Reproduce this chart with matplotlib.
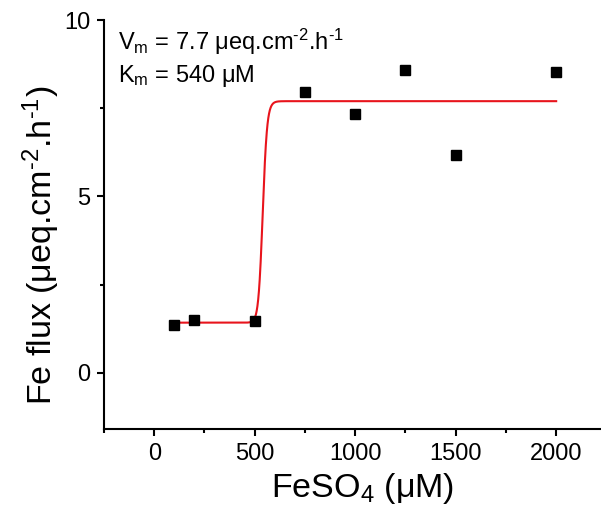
import numpy as np
import matplotlib
matplotlib.use("Agg")
import matplotlib.pyplot as plt
from matplotlib.ticker import MultipleLocator

plt.rcParams['font.family'] = ['Liberation Sans', 'DejaVu Sans']
plt.rcParams['mathtext.fontset'] = 'custom'
plt.rcParams['mathtext.rm'] = 'Liberation Sans'
plt.rcParams['mathtext.it'] = 'Liberation Sans:italic'

# measured points
feso4 = [100, 200, 500, 750, 1000, 1250, 1500, 2000]
fe_flux = [1.34, 1.50, 1.47, 7.97, 7.34, 8.58, 6.18, 8.52]

# fitted Hill curve parameters
vm = 7.7
km = 540
base = 1.42
hill_n = 50

xfit = np.linspace(100, 2000, 2000)
yfit = base + (vm - base) * xfit**hill_n / (km**hill_n + xfit**hill_n)

fig = plt.figure(figsize=(6.01, 5.14), dpi=100)
ax = fig.add_axes([0.173, 0.165, 0.826, 0.796])

ax.plot(xfit, yfit, color='#e8141c', lw=1.5, zorder=2)
ax.plot(feso4, fe_flux, 's', color='black', ms=6.5, zorder=3)

ax.set_xlim(-250, 2220)
ax.set_ylim(-1.6, 10)
ax.xaxis.set_major_locator(MultipleLocator(500))
ax.xaxis.set_minor_locator(MultipleLocator(250))
ax.yaxis.set_major_locator(MultipleLocator(5))
ax.yaxis.set_minor_locator(MultipleLocator(2.5))

for s in ['top', 'right']:
    ax.spines[s].set_visible(False)
for s in ['left', 'bottom']:
    ax.spines[s].set_linewidth(1.5)

ax.tick_params(which='major', direction='out', length=5, width=1.5, labelsize=17, pad=5)
ax.tick_params(which='minor', direction='out', length=3, width=1.5)

ax.set_xlabel('FeSO$_\\mathregular{4}$ (μM)', fontsize=24.5, labelpad=4)
ax.xaxis.label.set_x(0.52)
ax.set_ylabel('Fe flux (μeq.cm$^{\\text{-}\\mathregular{2}}$.h$^{\\text{-}\\mathregular{1}}$)',
              fontsize=24.5, labelpad=1)
ax.yaxis.label.set_y(0.45)

ax.text(0.028, 0.927, 'V$_\\mathregular{m}$ = 7.7 μeq.cm$^{\\text{-}\\mathregular{2}}$.h$^{\\text{-}\\mathregular{1}}$',
        transform=ax.transAxes, fontsize=17, va='baseline', ha='left')
ax.text(0.028, 0.848, 'K$_\\mathregular{m}$ = 540 μM',
        transform=ax.transAxes, fontsize=17, va='baseline', ha='left')

fig.savefig('out.png', dpi=100)
